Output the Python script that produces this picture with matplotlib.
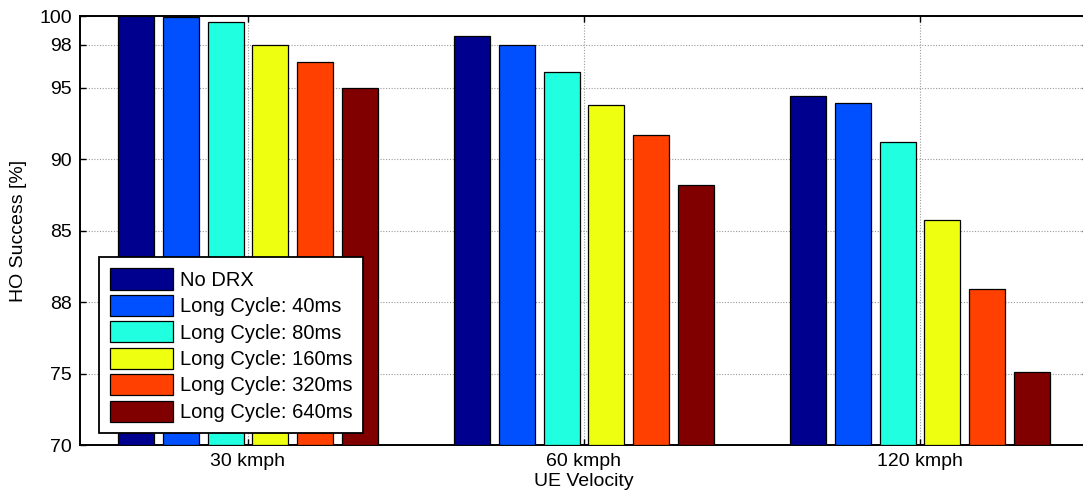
import numpy as np
import matplotlib
matplotlib.use('Agg')
import matplotlib.pyplot as plt

plt.rcParams['font.family'] = ['Liberation Sans', 'DejaVu Sans']

# data
velocities = ['30 kmph', '60 kmph', '120 kmph']
series_names = ['No DRX', 'Long Cycle: 40ms', 'Long Cycle: 80ms',
                'Long Cycle: 160ms', 'Long Cycle: 320ms', 'Long Cycle: 640ms']
no_drx = [100.0, 98.6, 94.4]
cycle_40 = [99.9, 98.0, 93.9]
cycle_80 = [99.6, 96.1, 91.2]
cycle_160 = [98.0, 93.75, 85.7]
cycle_320 = [96.8, 91.7, 80.9]
cycle_640 = [95.0, 88.2, 75.1]
ytick_vals = [70, 75, 80, 85, 90, 95, 98, 100]
ytick_labels = ['70', '75', '88', '85', '90', '95', '98', '100']

colors = ['#00008F', '#0050FF', '#20FFDF', '#EFFF10', '#FF4000', '#800000']
series = [no_drx, cycle_40, cycle_80, cycle_160, cycle_320, cycle_640]

fig = plt.figure(figsize=(10.83, 4.99), dpi=100)
ax = fig.add_axes([80 / 1083, 1 - 445 / 499, 1008 / 1083, 429 / 499])

x = np.arange(1, len(velocities) + 1)
step = 0.8 / 6
for i, (vals, col, name) in enumerate(zip(series, colors, series_names)):
    ax.bar(x + (i - 2.5) * step, np.array(vals) - 70, bottom=70, width=step * 0.8,
           color=col, edgecolor='black', linewidth=0.9, label=name, zorder=3)

ax.set_xlim(0.5, 3.5)
ax.set_ylim(70, 100)
ax.set_xticks(x)
ax.set_xticklabels(velocities)
ax.set_yticks(ytick_vals)
ax.set_yticklabels(ytick_labels)
ax.tick_params(direction='in', length=4, width=1, top=True, right=True,
               labelsize=14, pad=6)
ax.grid(True, linestyle=(0, (1, 1.5)), color='#9a9a9a', linewidth=0.8)
ax.set_axisbelow(True)
for s in ax.spines.values():
    s.set_linewidth(1.4)

ax.set_xlabel('UE Velocity', fontsize=14, labelpad=2)
ax.set_ylabel('HO Success [%]', fontsize=14, labelpad=9)

leg = ax.legend(loc='lower left', bbox_to_anchor=(99 / 1083, 1 - 433 / 499),
                bbox_transform=fig.transFigure, fontsize=14.5, fancybox=False,
                framealpha=1, edgecolor='black', handlelength=3.1,
                handleheight=1.25, handletextpad=0.35, labelspacing=0.25,
                borderpad=0.55, borderaxespad=0)
leg.get_frame().set_linewidth(1.3)

fig.savefig('out.png', dpi=100)
